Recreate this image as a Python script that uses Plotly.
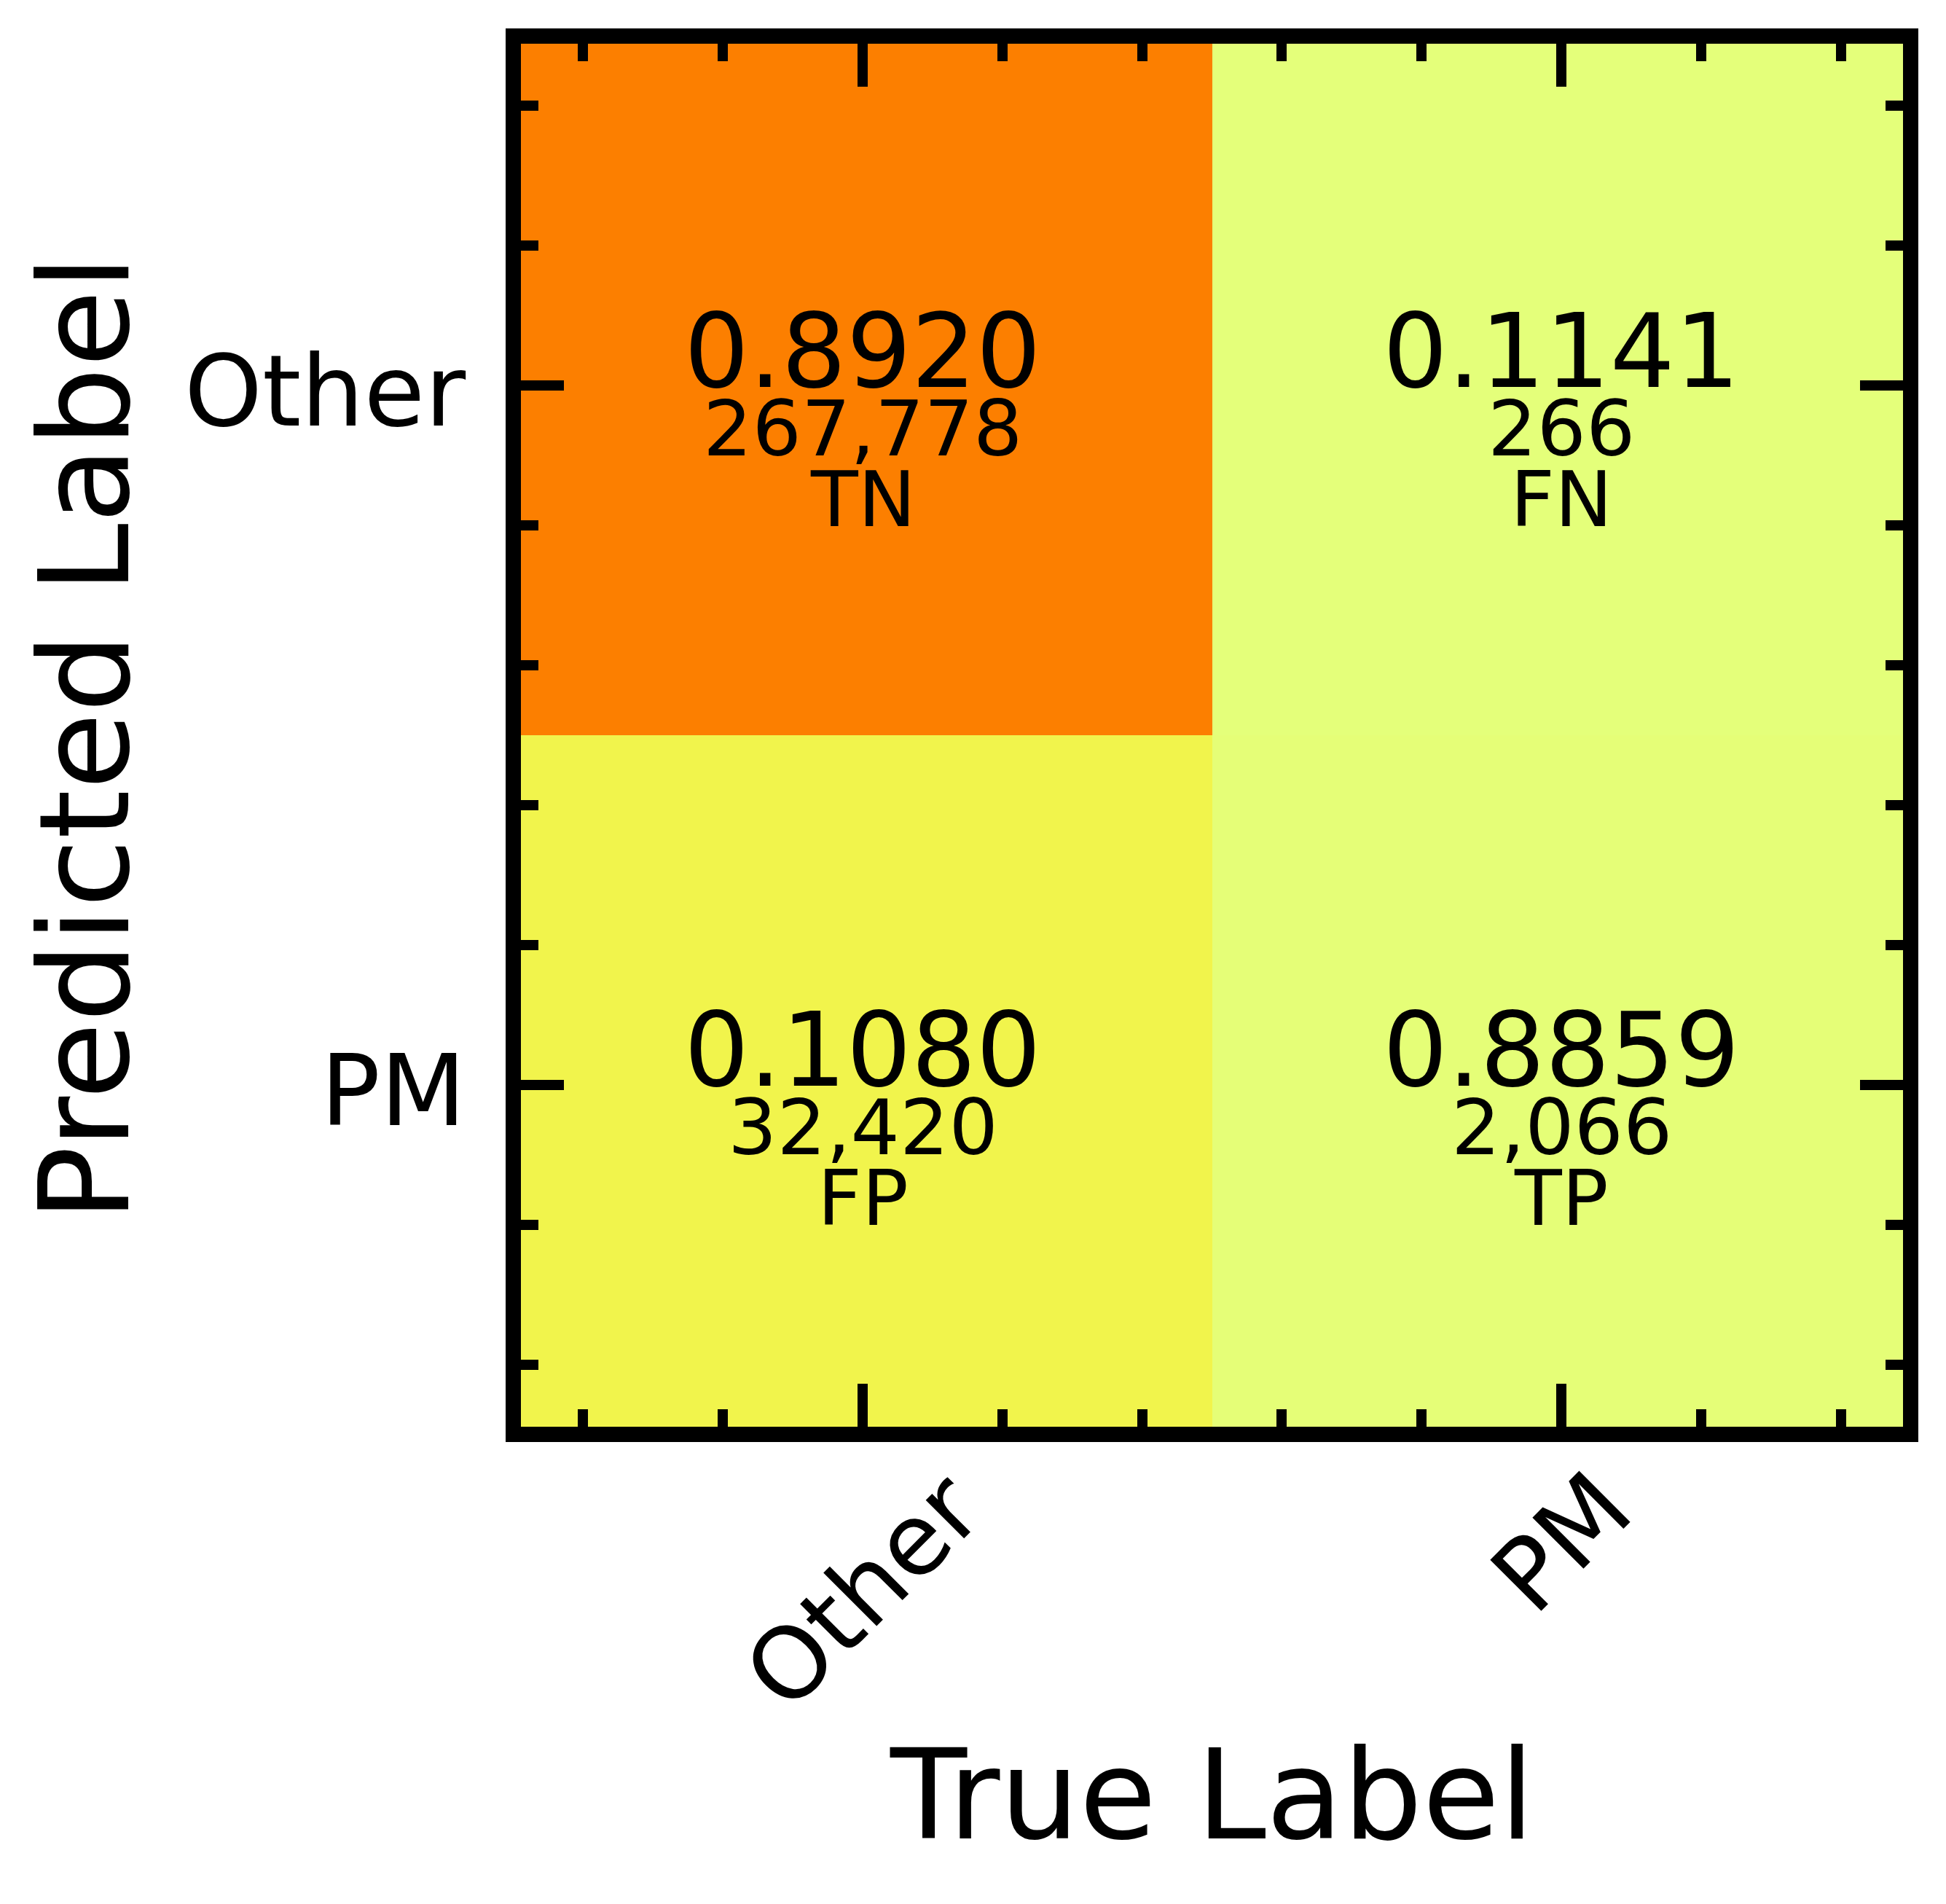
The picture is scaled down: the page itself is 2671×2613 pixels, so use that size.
import plotly.graph_objects as go

# confusion matrix: rows = predicted label, cols = true label
labels = ["Other", "PM"]
counts = [[267778, 266],
          [32420, 2066]]
rates = [[0.8920, 0.1141],
         [0.1080, 0.8859]]
kinds = [["TN", "FN"],
         ["FP", "TP"]]
minor_ticks = [-0.4, -0.2, 0.2, 0.4, 0.6, 0.8, 1.2, 1.4]

# matplotlib Wistia
wistia = [[0.0, "#e4ff7a"], [0.25, "#ffe81a"], [0.5, "#ffbd00"],
          [0.75, "#ffa000"], [1.0, "#fc7f00"]]

FONT = "DejaVu Sans"
W, H = 2671, 2613
L, R, T, B = 715, 59, 60, 655
pad = 0.48905  # half cell plus half spine, data units

fig = go.Figure(go.Heatmap(
    z=counts, x=[0, 1], y=[0, 1],
    colorscale=wistia, showscale=False, hoverinfo="skip"))

ann = []
for i in range(2):
    for j in range(2):
        ann.append(dict(x=j, y=i, xref="x", yref="y", text=f"{rates[i][j]:.4f}",
                        showarrow=False, yshift=47, font=dict(size=140)))
        ann.append(dict(x=j, y=i, xref="x", yref="y", text=f"{counts[i][j]:,}",
                        showarrow=False, yshift=-59, font=dict(size=106)))
        ann.append(dict(x=j, y=i, xref="x", yref="y", text=kinds[i][j],
                        showarrow=False, yshift=-156, font=dict(size=106)))

# tick labels
for k, lab in enumerate(labels):
    ann.append(dict(x=-0.039, y=k, xref="paper", yref="y", text=lab,
                    xanchor="right", yanchor="middle", showarrow=False,
                    yshift=-8, font=dict(size=136)))
    ann.append(dict(x=k, y=-0.016, xref="x", yref="paper", text=lab,
                    xanchor="center", yanchor="top", textangle=-45,
                    showarrow=False, font=dict(size=136)))

# axis titles
ann.append(dict(x=0.5, y=-0.2661, xref="paper", yref="paper", text="True Label",
                xanchor="center", yanchor="middle", showarrow=False,
                font=dict(size=172)))
ann.append(dict(x=-0.3155, y=0.498, xref="paper", yref="paper", text="Predicted Label",
                xanchor="center", yanchor="middle", textangle=-90, showarrow=False,
                font=dict(size=172)))

axis_style = dict(
    showline=True, linewidth=21, linecolor="black", mirror="ticks",
    ticks="inside", ticklen=59, tickwidth=14, tickcolor="black",
    tickmode="array", tickvals=[0, 1], showticklabels=False,
    showgrid=False, zeroline=False,
    minor=dict(ticks="inside", ticklen=24, tickwidth=14, tickcolor="black",
               tickmode="array", tickvals=minor_ticks, showgrid=False),
)

fig.update_layout(
    width=W, height=H,
    margin=dict(l=L, r=R, t=T, b=B, pad=0),
    paper_bgcolor="white", plot_bgcolor="white",
    font=dict(family=FONT, color="black"),
    annotations=ann,
    xaxis=dict(range=[-pad, 1 + pad], **axis_style),
    yaxis=dict(range=[1 + pad, -pad], **axis_style),
)

fig.write_html("out.html", config={"displayModeBar": False},
               post_script="document.body.style.margin='0';document.body.style.overflow='hidden';")
